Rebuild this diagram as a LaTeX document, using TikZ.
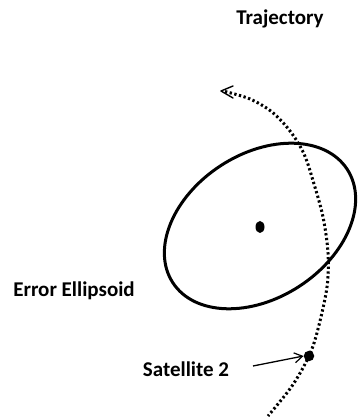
\documentclass[tikz,border=0pt]{standalone}
\usepackage{fontspec}
\setmainfont{Carlito}
\usetikzlibrary{arrows.meta,shapes.geometric}
\begin{document}
\begin{tikzpicture}[x=1pt,y=1pt,
  lbl/.style={font=\bfseries\fontsize{21}{25}\selectfont, inner sep=0pt, anchor=base},
  traj/.style={line width=3pt, dash pattern=on 2.3pt off 2.5pt},
  blob/.style={fill=black, draw=none},
]
\useasboundingbox (0,0) rectangle (357,419);
% trajectory
\coordinate (trajtip) at (221,328);
\draw[traj]
  plot[smooth, tension=0.55] coordinates {(225,327.5) (250,320) (272,307) (290,288) (304,265) (314,235) (323,202) (328,166) (327,132) (318,90) (309,63) (292,33) (268,3)};
\draw[line width=1.4pt, line cap=round, line join=round] (233,333) -- (trajtip) -- (233,321);
% error ellipse
\draw[line width=3pt] (260,193) ellipse [x radius=104pt, y radius=72pt, rotate=33];
\node[blob, ellipse, minimum width=9pt, minimum height=12pt, inner sep=0pt] (center) at (260,192) {};
% satellite
\node[blob, circle, minimum size=10.5pt, inner sep=0pt] (sat) at (309,63) {};
\node[lbl] (satlabel) at (186,42) {Satellite 2};
\coordinate (satarrowstart) at (253,53);
\draw[line width=1.3pt, -{Straight Barb[length=8pt,width=10pt,line width=1.2pt]}] (satarrowstart) -- (sat.west);
% labels
\node[lbl] (trajlabel) at (280,394) {Trajectory};
\node[lbl] (ellipselabel) at (74,122) {Error Ellipsoid};
\end{tikzpicture}
\end{document}
